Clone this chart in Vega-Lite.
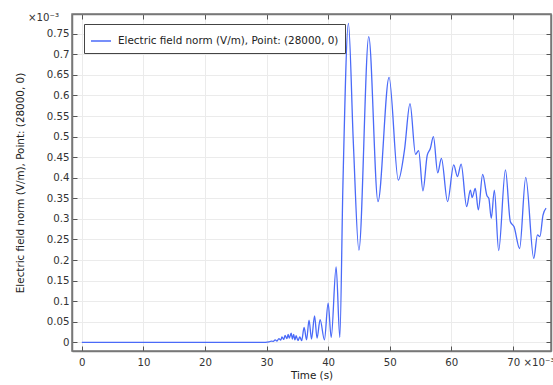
{
  "$schema": "https://vega.github.io/schema/vega-lite/v6.json",
  "autosize": {"type": "none"},
  "padding": {"left": 72, "top": 14, "right": 2, "bottom": 34},
  "width": 479,
  "height": 337,
  "background": "white",
  "title": {"text": "×10⁻³", "anchor": "start", "frame": "group", "orient": "top", "offset": 0, "dx": -44, "dy": 10, "fontSize": 10.2, "font": "DejaVu Sans", "fontWeight": "normal", "color": "#333"},
  "config": {
    "font": "DejaVu Sans",
    "view": {"stroke": "#777", "strokeWidth": 1.5},
    "axis": {"labelFont": "DejaVu Sans", "titleFont": "DejaVu Sans", "labelFontSize": 10.2, "titleFontSize": 10.4, "labelColor": "#333", "titleColor": "#222", "titleFontWeight": "normal", "domainColor": "#777", "domainWidth": 1.5, "tickColor": "#555", "tickSize": -5, "gridColor": "#ebebeb", "gridWidth": 1, "labelOverlap": false, "labelFlush": false}
  },
  "data": {"values": [
    {"t": 0, "v": 0}, {"t": 29.8, "v": 0}, {"t": 30.4, "v": 0.001}, {"t": 30.8, "v": 0.003}, {"t": 31.1, "v": 0.002},
    {"t": 31.4, "v": 0.006}, {"t": 31.7, "v": 0.003}, {"t": 32.0, "v": 0.009}, {"t": 32.3, "v": 0.005}, {"t": 32.5, "v": 0.013},
    {"t": 32.8, "v": 0.007}, {"t": 33.0, "v": 0.017}, {"t": 33.3, "v": 0.009}, {"t": 33.5, "v": 0.019}, {"t": 33.7, "v": 0.01},
    {"t": 34.0, "v": 0.022}, {"t": 34.2, "v": 0.008}, {"t": 34.4, "v": 0.019}, {"t": 34.6, "v": 0.006}, {"t": 34.8, "v": 0.016},
    {"t": 35.1, "v": 0.004}, {"t": 35.4, "v": 0.013}, {"t": 35.7, "v": 0.004}, {"t": 36.1, "v": 0.036}, {"t": 36.5, "v": 0.006},
    {"t": 36.9, "v": 0.054}, {"t": 37.3, "v": 0.008}, {"t": 37.8, "v": 0.064}, {"t": 38.2, "v": 0.01}, {"t": 38.7, "v": 0.055},
    {"t": 39.4, "v": 0.006}, {"t": 40.0, "v": 0.095}, {"t": 40.5, "v": 0.012}, {"t": 41.3, "v": 0.183}, {"t": 41.9, "v": 0.012},
    {"t": 42.4, "v": 0.38}, {"t": 43.3, "v": 0.775}, {"t": 44.1, "v": 0.484}, {"t": 45.0, "v": 0.224}, {"t": 46.6, "v": 0.743},
    {"t": 48.1, "v": 0.342}, {"t": 49.9, "v": 0.644}, {"t": 51.4, "v": 0.394}, {"t": 52.4, "v": 0.467}, {"t": 53.3, "v": 0.58},
    {"t": 54.2, "v": 0.457}, {"t": 54.7, "v": 0.466}, {"t": 55.4, "v": 0.368}, {"t": 56.1, "v": 0.455}, {"t": 56.6, "v": 0.471},
    {"t": 57.1, "v": 0.5}, {"t": 57.8, "v": 0.412}, {"t": 58.4, "v": 0.447}, {"t": 59.4, "v": 0.342}, {"t": 60.4, "v": 0.431},
    {"t": 61.0, "v": 0.403}, {"t": 61.6, "v": 0.433}, {"t": 62.5, "v": 0.33}, {"t": 63.1, "v": 0.37}, {"t": 63.4, "v": 0.352},
    {"t": 63.9, "v": 0.374}, {"t": 64.4, "v": 0.322}, {"t": 65.1, "v": 0.408}, {"t": 65.8, "v": 0.356}, {"t": 66.1, "v": 0.35},
    {"t": 66.5, "v": 0.301}, {"t": 67.0, "v": 0.37}, {"t": 67.7, "v": 0.223}, {"t": 68.8, "v": 0.419}, {"t": 69.6, "v": 0.293},
    {"t": 70.2, "v": 0.281}, {"t": 71.1, "v": 0.228}, {"t": 72.1, "v": 0.401}, {"t": 73.4, "v": 0.204}, {"t": 74.0, "v": 0.261},
    {"t": 74.4, "v": 0.257}, {"t": 74.9, "v": 0.309}, {"t": 75.4, "v": 0.326}
  ]},
  "layer": [
    {
      "mark": {"type": "line", "interpolate": "monotone", "strokeWidth": 1.3, "clip": true},
      "encoding": {
        "x": {"field": "t", "type": "quantitative", "scale": {"domain": [-1.6, 76.2], "nice": false, "zero": false},
          "axis": {"title": "Time (s)", "values": [0, 10, 20, 30, 40, 50, 60, 70], "labelPadding": 11, "titlePadding": 3,
            "labelExpr": "datum.value == 70 ? '70 ×10⁻³' : datum.label",
            "labelAlign": {"condition": {"test": "datum.value == 70", "value": "left"}, "value": "center"},
            "labelOffset": {"condition": {"test": "datum.value == 70", "value": -6}, "value": 0}}},
        "y": {"field": "v", "type": "quantitative", "scale": {"domain": [-0.0212, 0.798], "nice": false, "zero": false},
          "axis": {"title": "Electric field norm (V/m), Point: (28000, 0)", "values": [0, 0.05, 0.1, 0.15, 0.2, 0.25, 0.3, 0.35, 0.4, 0.45, 0.5, 0.55, 0.6, 0.65, 0.7, 0.75], "format": ".2~f", "labelPadding": 8, "titlePadding": 21}},
        "color": {"datum": "Electric field norm (V/m), Point: (28000, 0)", "type": "nominal", "scale": {"range": ["#4a6af8"]},
          "legend": {"title": null, "orient": "none", "legendX": 12, "legendY": 10, "symbolType": "stroke", "symbolSize": 400, "symbolStrokeWidth": 1.5, "labelFontSize": 10.4, "labelFont": "DejaVu Sans", "labelColor": "#222", "labelLimit": 0, "strokeColor": "#444", "fillColor": "white", "padding": 6, "labelOffset": 6, "cornerRadius": 0}}
      }
    },
    {
      "mark": {"type": "rule", "opacity": 0},
      "encoding": {
        "x": {"field": "t", "type": "quantitative", "scale": {"domain": [-1.6, 76.2], "nice": false, "zero": false},
          "axis": {"orient": "top", "title": null, "labels": false, "grid": false, "values": [0, 10, 20, 30, 40, 50, 60, 70]}},
        "y": {"field": "v", "type": "quantitative", "scale": {"domain": [-0.0212, 0.798], "nice": false, "zero": false},
          "axis": {"orient": "right", "title": null, "labels": false, "grid": false, "values": [0, 0.05, 0.1, 0.15, 0.2, 0.25, 0.3, 0.35, 0.4, 0.45, 0.5, 0.55, 0.6, 0.65, 0.7, 0.75]}}
      }
    }
  ],
  "resolve": {"axis": {"x": "independent", "y": "independent"}}
}
